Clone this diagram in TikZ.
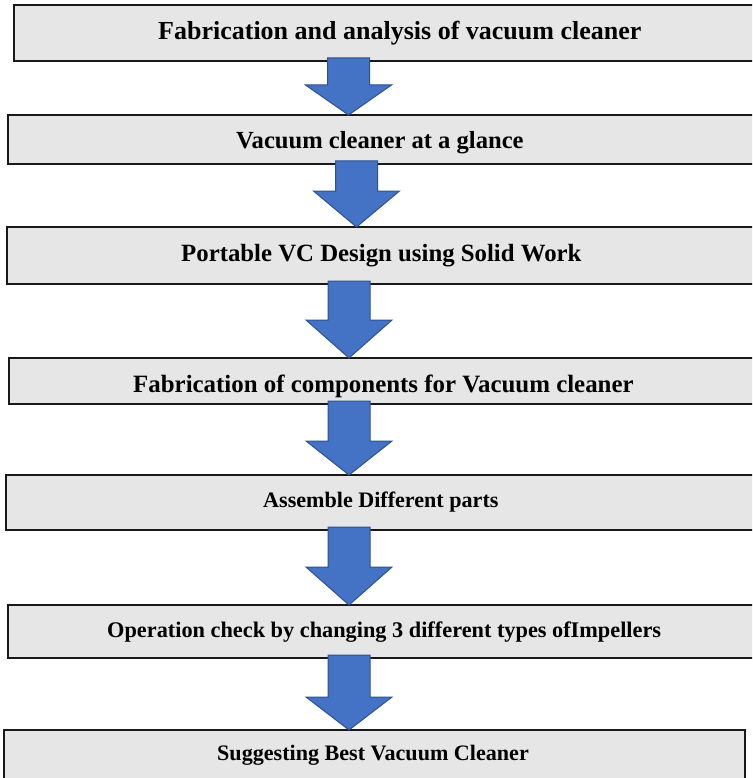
\documentclass[tikz,border=0pt]{standalone}
\usepackage{fontspec}
\setmainfont{Liberation Serif}
\usetikzlibrary{calc}
\definecolor{boxfill}{HTML}{E7E6E6}
\definecolor{arrowfill}{HTML}{4472C4}
\definecolor{arrowline}{HTML}{2F528F}
\tikzset{
  flowbox/.style={rectangle, draw=black!90, line width=1.8pt, fill=boxfill,
    inner sep=0pt, outer sep=0pt, anchor=north west},
  lbl/.style={anchor=base west, inner sep=0pt, text=black},
  blockarrow/.style={fill=arrowfill, draw=arrowline, line width=1pt, line join=miter}
}
\newcommand\flowarrow[4]{%
  \coordinate (ax) at (#3,0);
  \draw[blockarrow] ($(#1.south -| ax)+(-21,-3)$) -- ($(#1.south -| ax)+(21,-3)$)
    -- ($(#2.north -| ax)+(21,-#4)$) -- ($(#2.north -| ax)+(43,-#4)$)
    -- (#2.north -| ax) -- ($(#2.north -| ax)+(-43,-#4)$)
    -- ($(#2.north -| ax)+(-21,-#4)$) -- cycle;}
\begin{document}
\begin{tikzpicture}[x=1pt, y=-1pt]
\useasboundingbox (0,0) rectangle (752,778);
\clip (0,0) rectangle (752,778);
\fill[white] (0,0) rectangle (752,778);
% boxes
\node[flowbox, minimum width=800pt, minimum height=56pt] (b1) at (14,5) {};
\node[flowbox, minimum width=800pt, minimum height=49pt] (b2) at (8,115) {};
\node[flowbox, minimum width=800pt, minimum height=57pt] (b3) at (7,227) {};
\node[flowbox, minimum width=800pt, minimum height=46pt] (b4) at (9,358) {};
\node[flowbox, minimum width=800pt, minimum height=55pt] (b5) at (6,475) {};
\node[flowbox, minimum width=800pt, minimum height=53pt] (b6) at (8,605) {};
\node[flowbox, minimum width=741pt, minimum height=70pt] (b7) at (4,730) {};
% labels
\node[lbl, font=\fontsize{26}{30}\selectfont\bfseries] (t1) at (158,40) {Fabrication and analysis of vacuum cleaner};
\node[lbl, font=\fontsize{24.6}{28}\selectfont\bfseries] (t2) at (236,149) {Vacuum cleaner at a glance};
\node[lbl, font=\fontsize{24.8}{28}\selectfont\bfseries] (t3) at (181,261) {Portable VC Design using Solid Work};
\node[lbl, font=\fontsize{24.9}{28}\selectfont\bfseries] (t4) at (133,392) {Fabrication of components for Vacuum cleaner};
\node[lbl, font=\fontsize{22.1}{26}\selectfont\bfseries] (t5) at (263,507) {Assemble Different parts};
\node[lbl, font=\fontsize{22.3}{26}\selectfont\bfseries] (t6) at (107,637) {Operation check by changing 3 different types ofImpellers};
\node[lbl, font=\fontsize{22.1}{26}\selectfont\bfseries] (t7) at (217,760) {Suggesting Best Vacuum Cleaner};
% arrows
\flowarrow{b1}{b2}{348.5}{30}
\flowarrow{b2}{b3}{356.5}{36}
\flowarrow{b3}{b4}{349}{38}
\flowarrow{b4}{b5}{349}{34}
\flowarrow{b5}{b6}{349}{38}
\flowarrow{b6}{b7}{349}{33}
\end{tikzpicture}
\end{document}
